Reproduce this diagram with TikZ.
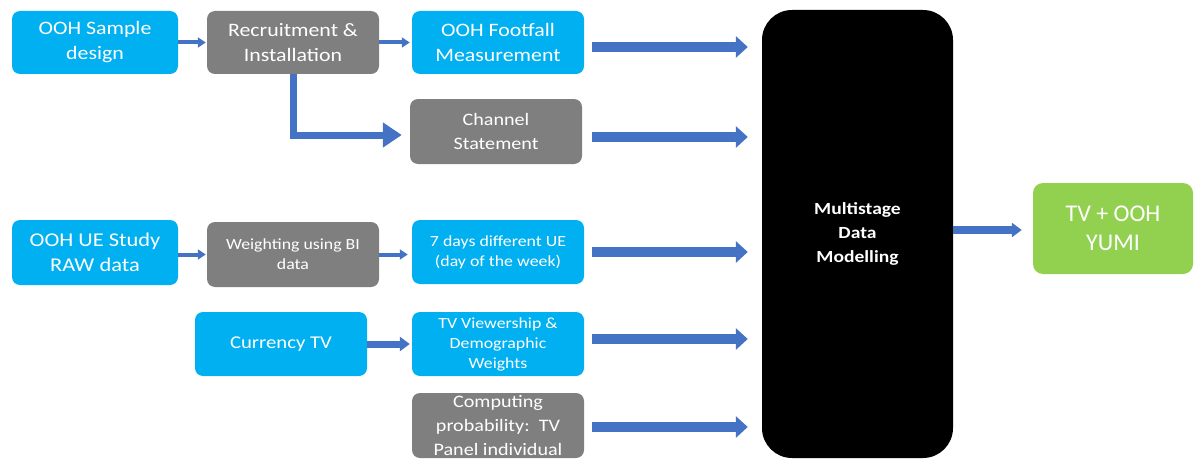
\documentclass[tikz,border=0pt]{standalone}
\usepackage{fontspec}
\setmainfont[FakeStretch=1.15]{Carlito}
\newfontfamily\plainfont{Carlito}
\usetikzlibrary{arrows.meta,calc}
\definecolor{oohblue}{HTML}{00B0F0}
\definecolor{oohgray}{HTML}{7F7F7F}
\definecolor{oohgreen}{HTML}{92D050}
\definecolor{arrblue}{HTML}{4472C4}
\tikzset{
  box/.style={rectangle, rounded corners=8pt, inner sep=2pt, text=white, align=center, draw=none},
  bluebox/.style={box, fill=oohblue},
  graybox/.style={box, fill=oohgray},
  bigarr/.style={draw=arrblue, line width=10pt, -{Triangle[width=21pt,length=12pt]}},
  smallarr/.style={draw=arrblue, line width=4pt, -{Triangle[width=10pt,length=8pt]}},
  midarr/.style={draw=arrblue, line width=7pt, -{Triangle[width=14pt,length=10pt]}},
  elbowarr/.style={draw=arrblue, line width=7pt, -{Triangle[width=24pt,length=19pt]}},
}
\begin{document}
\begin{tikzpicture}[x=1pt,y=-1pt]
\useasboundingbox (0,0) rectangle (1194,460);
% boxes
\node[bluebox, minimum width=166pt, minimum height=63pt, font=\fontsize{19}{25}\selectfont] (samp) at (95,42.5) {OOH Sample\\design};
\node[graybox, minimum width=172pt, minimum height=63pt, font=\fontsize{19}{25}\selectfont] (recr) at (293,42.5) {Recruitment \&\\Installation};
\node[bluebox, minimum width=172pt, minimum height=63pt, font=\fontsize{19}{25}\selectfont] (foot) at (498,42.5) {OOH Footfall\\Measurement};
\node[graybox, minimum width=172pt, minimum height=65pt, font=\fontsize{17.5}{24}\selectfont] (chan) at (496,131.5) {Channel\\Statement};
\node[bluebox, minimum width=166pt, minimum height=65pt, font=\fontsize{19.5}{25}\selectfont] (ue) at (95,252.5) {OOH UE Study\\RAW data};
\node[graybox, minimum width=172pt, minimum height=65pt, font=\fontsize{15.5}{20}\selectfont] (wgt) at (293,254.5) {Weighting using BI\\data};
\node[bluebox, minimum width=172pt, minimum height=64pt, font=\fontsize{15.5}{20}\selectfont] (days) at (498,252) {7 days different UE\\(day of the week)};
\node[bluebox, minimum width=172pt, minimum height=64pt, font=\fontsize{18}{25}\selectfont] (cur) at (281,344) {Currency TV};
\node[bluebox, minimum width=172pt, minimum height=64pt, font=\fontsize{15.5}{20}\selectfont] (tvv) at (498,344) {TV Viewership \&\\Demographic\\Weights};
\node[graybox, minimum width=172pt, minimum height=65pt, font=\fontsize{17.5}{24}\selectfont] (comp) at (498,425.5) {Computing\\probability:\ \ TV\\Panel individual};
\node[box, fill=black, rounded corners=30pt, minimum width=191pt, minimum height=448pt, font=\bfseries\fontsize{17}{24}\selectfont] (mdm) at (857.5,234) {Multistage\\Data\\Modelling};
\node[box, fill=oohgreen, rounded corners=10pt, minimum width=160pt, minimum height=91pt, font=\plainfont\fontsize{24}{29}\selectfont] (yumi) at (1113,228.5) {TV + OOH\\YUMI};
% anchor points for the connectors
\coordinate (f1) at ([xshift=8pt,yshift=-4.5pt]foot.east);
\coordinate (c1) at ([xshift=10pt,yshift=-5.5pt]chan.east);
\coordinate (d1) at ([xshift=8pt]days.east);
\coordinate (t1) at ([xshift=8pt,yshift=5pt]tvv.east);
\coordinate (p1) at ([xshift=8pt,yshift=-1.5pt]comp.east);
\coordinate (m1) at ([yshift=4pt]mdm.east);
\coordinate (e1) at ([yshift=-3.5pt]chan.west);
% connectors
\draw[smallarr, shorten >=1pt] (samp.east) -- (recr.west);
\draw[smallarr, shorten >=2pt] (recr.east) -- (foot.west);
\draw[smallarr, shorten >=1pt] (ue.east |- wgt.west) -- (wgt.west);
\draw[smallarr, shorten >=4pt] (wgt.east) -- (days.west |- wgt.east);
\draw[midarr, shorten >=2pt] (cur.east) -- (tvv.west);
\draw[elbowarr, shorten >=8pt] (recr.south) |- (e1);
\draw[bigarr] (f1) -- ([xshift=-14pt]mdm.west |- f1);
\draw[bigarr] (c1) -- ([xshift=-14pt]mdm.west |- c1);
\draw[bigarr] (d1) -- ([xshift=-14pt]mdm.west |- d1);
\draw[bigarr] (t1) -- ([xshift=-14pt]mdm.west |- t1);
\draw[bigarr] (p1) -- ([xshift=-14pt]mdm.west |- p1);
\draw[midarr, line width=8pt] (m1) -- ([xshift=-11pt]yumi.west |- m1);
\end{tikzpicture}
\end{document}
